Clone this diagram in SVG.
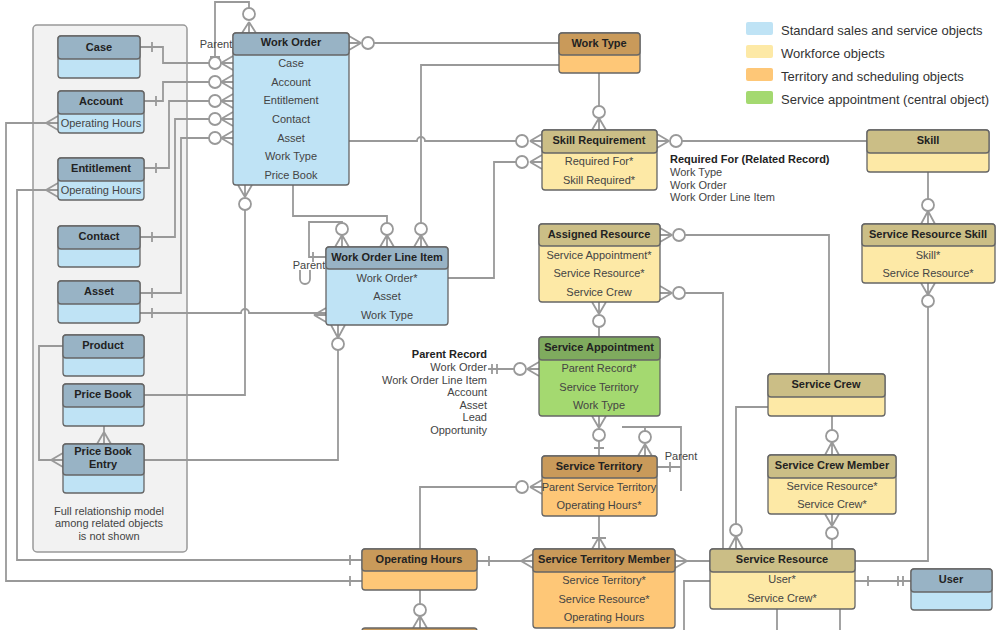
<svg xmlns="http://www.w3.org/2000/svg" width="1000" height="630" viewBox="0 0 1000 630">
<style>
text{font-family:"Liberation Sans",Arial,sans-serif;font-size:11px;fill:#444;text-anchor:middle}
.h{font-weight:bold;fill:#222}
.l{font-size:13px;text-anchor:start;fill:#333}
.n{text-anchor:end}
.s{text-anchor:start}
.e rect{stroke:#666;stroke-width:1.3}
.bb{fill:#bfe3f5}.bh{fill:#98b3c5}
.yb{fill:#fde9a6}.yh{fill:#cbbe86}
.ob{fill:#fec777}.oh{fill:#c99a5a}
.gb{fill:#a4d970}.gh{fill:#7fab5e}
#conn path{fill:none;stroke:#999;stroke-width:1.8}
#conn circle{fill:#fff;stroke:#999;stroke-width:1.8}
</style>
<rect x="33" y="25" width="154" height="527" rx="4" fill="#f2f2f2" stroke="#999" stroke-width="1.5"/>
<text x="109" y="515">Full relationship model</text>
<text x="109" y="527">among related objects</text>
<text x="109" y="540">is not shown</text>
<g id="legend">
<rect x="746" y="22" width="27" height="13" rx="2" fill="#bfe3f5"/><text class="l" x="781" y="35">Standard sales and service objects</text>
<rect x="746" y="45" width="27" height="13" rx="2" fill="#fde9a6"/><text class="l" x="781" y="58">Workforce objects</text>
<rect x="746" y="68" width="27" height="13" rx="2" fill="#fec777"/><text class="l" x="781" y="81">Territory and scheduling objects</text>
<rect x="746" y="91" width="27" height="13" rx="2" fill="#a4d970"/><text class="l" x="781" y="104">Service appointment (central object)</text>
</g>
<g id="conn">
<!-- WO self parent -->
<path d="M249,8V2H215V63M249,22L242,33M249,22V33M249,22L256,33M210,57H220"/><circle cx="249" cy="14" r="6"/>
<!-- left to WO -->
<path d="M140,47H163V63H209M152,42V52M221,63L233,56M221,63H233M221,63L233,70"/><circle cx="215" cy="63" r="6"/>
<path d="M144,101H163V82H209M156,96V106M221,82L233,75M221,82H233M221,82L233,89"/><circle cx="215" cy="82" r="6"/>
<path d="M144,168H169V101H209M156,163V173M221,101L233,94M221,101H233M221,101L233,108"/><circle cx="215" cy="101" r="6"/>
<path d="M140,237H175V119H209M152,232V242M221,119L233,112M221,119H233M221,119L233,126"/><circle cx="215" cy="119" r="6"/>
<path d="M140,293H181V138H209M152,288V298M221,138L233,131M221,138H233M221,138L233,145"/><circle cx="215" cy="138" r="6"/>
<path d="M140,313H241A4,4 0 0 1 249,313H326M152,308V318M314,315L326,308M314,315H326M314,315L326,322"/>
<!-- WO bottom to Price Book -->
<path d="M245,210V395H144M245,197L238,185M245,197V185M245,197L252,185"/><circle cx="245" cy="204" r="6"/>
<path d="M293,185V216H387V223M387,235L380,247M387,235V247M387,235L394,247"/><circle cx="387" cy="229" r="6"/>
<path d="M342,223V222H309V257H326M313,252V262M342,235L335,247M342,235V247M342,235L349,247"/><circle cx="342" cy="229" r="6"/>
<path d="M300,270V279A5,5 0 0 0 310,279V270" stroke-width="1.3"/>
<path d="M421,223V65H559M421,235L414,247M421,235V247M421,235L428,247"/><circle cx="421" cy="229" r="6"/>
<path d="M374,43H559M361,43L349,36M361,43H349M361,43L349,50"/><circle cx="368" cy="43" r="6"/>
<path d="M349,141H417A4,4 0 0 1 425,141H516M530,141L542,134M530,141H542M530,141L542,148"/><circle cx="522" cy="141" r="6"/>
<path d="M448,278H494V162H516M530,162L542,155M530,162H542M530,162L542,169"/><circle cx="522" cy="162" r="6"/>
<path d="M599,73V106M599,118L592,130M599,118V130M599,118L606,130"/><circle cx="599" cy="112" r="6"/>
<path d="M682,141H867M669,141L657,134M669,141H657M669,141L657,148"/><circle cx="676" cy="141" r="6"/>
<path d="M928,172V199M928,211L921,224M928,211V224M928,211L935,224"/><circle cx="928" cy="205" r="6"/>
<path d="M928,307V561H855M928,295L921,283M928,295V283M928,295L935,283"/><circle cx="928" cy="301" r="6"/>
<path d="M685,235H829V374M672,235L660,228M672,235H660M672,235L660,242"/><circle cx="679" cy="235" r="6"/>
<path d="M685,293H723V549M672,293L660,286M672,293H660M672,293L660,300"/><circle cx="679" cy="293" r="6"/>
<path d="M599,327V337M599,314L592,302M599,314V302M599,314L606,302"/><circle cx="599" cy="321" r="6"/>
<path d="M514,369H488M492,364V374M497,364V374M527,369L539,362M527,369H539M527,369L539,376"/><circle cx="520" cy="369" r="6"/>
<path d="M599,441V456M594,448H604M599,428L592,416M599,428V416M599,428L606,416"/><circle cx="599" cy="435" r="6"/>
<path d="M645,431V427H622M645,427H681V491M657,467H681M670,462V472M645,444L638,456M645,444V456M645,444L652,456"/><circle cx="645" cy="437" r="6"/>
<path d="M516,487H420V549M530,487L542,480M530,487H542M530,487L542,494"/><circle cx="522" cy="487" r="6"/>
<path d="M599,516V549M592,538H606M599,537L592,549M599,537V549M599,537L606,549"/>
<path d="M477,561H533M489,556V566M521,561L533,554M521,561L533,568"/>
<path d="M675,561H710M687,561L675,554M687,561L675,568"/>
<path d="M710,581H684V630"/>
<path d="M736,524V407H768M736,536L729,549M736,536V549M736,536L743,549"/><circle cx="736" cy="530" r="6"/>
<path d="M832,416V430M832,442L825,455M832,442V455M832,442L839,455"/><circle cx="832" cy="436" r="6"/>
<path d="M832,539V549M832,526L825,514M832,526V514M832,526L839,514"/><circle cx="832" cy="533" r="6"/>
<path d="M855,581H911M868,576V586M898,576V586M903,576V586"/>
<path d="M777,609V630M840,609V630"/>
<path d="M58,123H6V581H362M46,123L58,116M46,123L58,130M350,576V586"/>
<path d="M58,190H17V560H362M46,190L58,183M46,190L58,197M350,555V565"/>
<path d="M63,346H39V460H63M51,460L63,453M51,460L63,467"/>
<path d="M104,426V444M104,432L97,444M104,432L111,444"/>
<path d="M144,460H338V350M338,338L331,325M338,338V325M338,338L345,325"/><circle cx="338" cy="344" r="6"/>
<path d="M420,590V604M420,616L413,628M420,616V628M420,616L427,628"/><circle cx="420" cy="610" r="6"/>
</g>
<text x="216" y="48">Parent</text>
<text x="309" y="269">Parent</text>
<text x="681" y="460">Parent</text>
<g id="notes">
<text class="h n" x="487" y="358">Parent Record</text>
<text class="n" x="487" y="371">Work Order</text>
<text class="n" x="487" y="384">Work Order Line Item</text>
<text class="n" x="487" y="396">Account</text>
<text class="n" x="487" y="409">Asset</text>
<text class="n" x="487" y="421">Lead</text>
<text class="n" x="487" y="434">Opportunity</text>
<text class="h s" x="670" y="163">Required For (Related Record)</text>
<text class="s" x="670" y="176">Work Type</text>
<text class="s" x="670" y="189">Work Order</text>
<text class="s" x="670" y="201">Work Order Line Item</text>
</g>
<g id="case" class="e"><rect class="bb" x="58" y="36" width="82" height="42" rx="3"/><rect class="bh" x="58" y="36" width="82" height="23" rx="3"/><text class="h" x="99" y="51">Case</text></g>
<g id="account" class="e"><rect class="bb" x="58" y="91" width="86" height="42" rx="3"/><rect class="bh" x="58" y="91" width="86" height="23" rx="3"/><text class="h" x="101" y="105">Account</text><text x="101" y="127">Operating Hours</text></g>
<g id="entitlement" class="e"><rect class="bb" x="58" y="158" width="86" height="42" rx="3"/><rect class="bh" x="58" y="158" width="86" height="23" rx="3"/><text class="h" x="101" y="172">Entitlement</text><text x="101" y="194">Operating Hours</text></g>
<g id="contact" class="e"><rect class="bb" x="58" y="226" width="82" height="41" rx="3"/><rect class="bh" x="58" y="226" width="82" height="23" rx="3"/><text class="h" x="99" y="240">Contact</text></g>
<g id="asset" class="e"><rect class="bb" x="58" y="281" width="82" height="42" rx="3"/><rect class="bh" x="58" y="281" width="82" height="23" rx="3"/><text class="h" x="99" y="295">Asset</text></g>
<g id="product" class="e"><rect class="bb" x="63" y="335" width="81" height="41" rx="3"/><rect class="bh" x="63" y="335" width="81" height="23" rx="3"/><text class="h" x="103" y="349">Product</text></g>
<g id="pricebook" class="e"><rect class="bb" x="63" y="384" width="81" height="42" rx="3"/><rect class="bh" x="63" y="384" width="81" height="23" rx="3"/><text class="h" x="103" y="398">Price Book</text></g>
<g id="pbe" class="e"><rect class="bb" x="63" y="444" width="81" height="49" rx="3"/><rect class="bh" x="63" y="444" width="81" height="31" rx="3"/><text class="h" x="103" y="455">Price Book</text><text class="h" x="103" y="468">Entry</text></g>
<g id="workorder" class="e"><rect class="bb" x="233" y="33" width="116" height="152" rx="3"/><rect class="bh" x="233" y="33" width="116" height="22" rx="3"/><text class="h" x="291" y="46">Work Order</text>
<text x="291" y="67">Case</text><text x="291" y="86">Account</text><text x="291" y="104">Entitlement</text><text x="291" y="123">Contact</text><text x="291" y="142">Asset</text><text x="291" y="160">Work Type</text><text x="291" y="179">Price Book</text></g>
<g id="woli" class="e"><rect class="bb" x="326" y="247" width="122" height="78" rx="3"/><rect class="bh" x="326" y="247" width="122" height="22" rx="3"/><text class="h" x="387" y="261">Work Order Line Item</text><text x="387" y="282">Work Order*</text><text x="387" y="300">Asset</text><text x="387" y="319">Work Type</text></g>
<g id="worktype" class="e"><rect class="ob" x="559" y="33" width="81" height="40" rx="3"/><rect class="oh" x="559" y="33" width="81" height="22" rx="3"/><text class="h" x="599" y="47">Work Type</text></g>
<g id="skillreq" class="e"><rect class="yb" x="542" y="130" width="115" height="60" rx="3"/><rect class="yh" x="542" y="130" width="115" height="23" rx="3"/><text class="h" x="599" y="144">Skill Requirement</text><text x="599" y="165">Required For*</text><text x="599" y="184">Skill Required*</text></g>
<g id="skill" class="e"><rect class="yb" x="867" y="130" width="122" height="42" rx="3"/><rect class="yh" x="867" y="130" width="122" height="23" rx="3"/><text class="h" x="928" y="144">Skill</text></g>
<g id="assigned" class="e"><rect class="yb" x="539" y="224" width="121" height="78" rx="3"/><rect class="yh" x="539" y="224" width="121" height="22" rx="3"/><text class="h" x="599" y="238">Assigned Resource</text><text x="599" y="259">Service Appointment*</text><text x="599" y="277">Service Resource*</text><text x="599" y="296">Service Crew</text></g>
<g id="srskill" class="e"><rect class="yb" x="862" y="224" width="133" height="59" rx="3"/><rect class="yh" x="862" y="224" width="133" height="22" rx="3"/><text class="h" x="928" y="238">Service Resource Skill</text><text x="928" y="259">Skill*</text><text x="928" y="277">Service Resource*</text></g>
<g id="servappt" class="e"><rect class="gb" x="539" y="337" width="121" height="79" rx="3"/><rect class="gh" x="539" y="337" width="121" height="23" rx="3"/><text class="h" x="599" y="351">Service Appointment</text><text x="599" y="372">Parent Record*</text><text x="599" y="391">Service Territory</text><text x="599" y="409">Work Type</text></g>
<g id="servcrew" class="e"><rect class="yb" x="768" y="374" width="117" height="42" rx="3"/><rect class="yh" x="768" y="374" width="117" height="23" rx="3"/><text class="h" x="826" y="388">Service Crew</text></g>
<g id="scm" class="e"><rect class="yb" x="768" y="455" width="128" height="59" rx="3"/><rect class="yh" x="768" y="455" width="128" height="23" rx="3"/><text class="h" x="832" y="469">Service Crew Member</text><text x="832" y="490">Service Resource*</text><text x="832" y="508">Service Crew*</text></g>
<g id="territory" class="e"><rect class="ob" x="542" y="456" width="115" height="60" rx="3"/><rect class="oh" x="542" y="456" width="115" height="22" rx="3"/><text class="h" x="599" y="470">Service Territory</text><text x="599" y="491">Parent Service Territory</text><text x="599" y="509">Operating Hours*</text></g>
<g id="ophours" class="e"><rect class="ob" x="362" y="549" width="115" height="41" rx="3"/><rect class="oh" x="362" y="549" width="115" height="22" rx="3"/><text class="h" x="419" y="563">Operating Hours</text></g>
<g id="stm" class="e"><rect class="ob" x="533" y="549" width="142" height="79" rx="3"/><rect class="oh" x="533" y="549" width="142" height="23" rx="3"/><text class="h" x="604" y="563">Service Territory Member</text><text x="604" y="584">Service Territory*</text><text x="604" y="603">Service Resource*</text><text x="604" y="621">Operating Hours</text></g>
<g id="servres" class="e"><rect class="yb" x="710" y="549" width="145" height="60" rx="3"/><rect class="yh" x="710" y="549" width="145" height="23" rx="3"/><text class="h" x="782" y="563">Service Resource</text><text x="782" y="583">User*</text><text x="782" y="602">Service Crew*</text></g>
<g id="user" class="e"><rect class="bb" x="911" y="569" width="81" height="41" rx="3"/><rect class="bh" x="911" y="569" width="81" height="23" rx="3"/><text class="h" x="951" y="583">User</text></g>
<g id="partial" class="e"><rect class="oh" x="362" y="628" width="115" height="10" rx="3"/></g>
</svg>
